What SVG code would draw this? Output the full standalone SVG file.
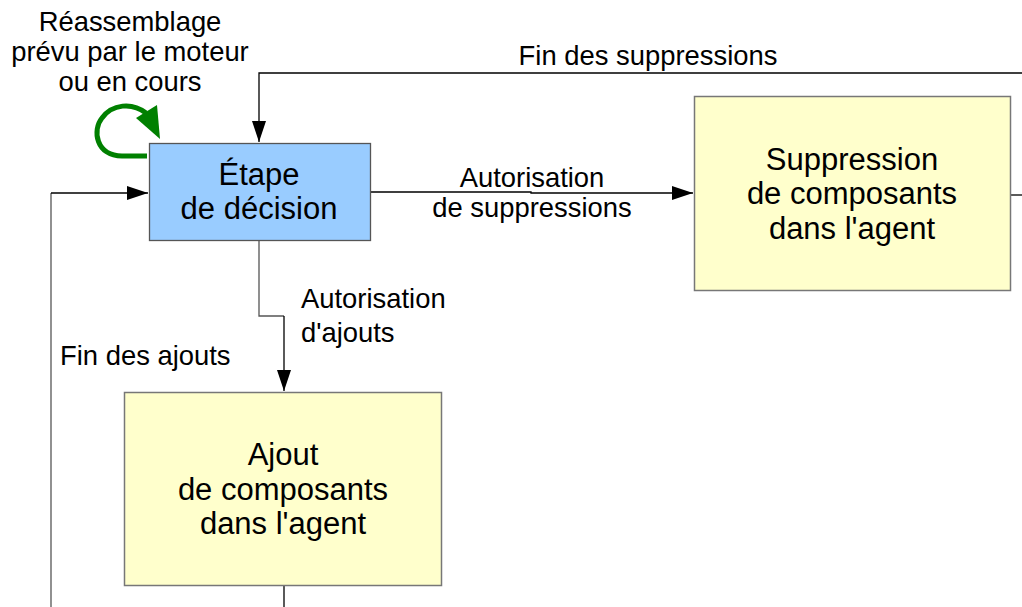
<svg xmlns="http://www.w3.org/2000/svg" width="1022" height="607" viewBox="0 0 1022 607">
<style>
text{font-family:"Liberation Sans",Arial,sans-serif;fill:#000}
.n{font-size:31px;text-anchor:middle}
.l{font-size:27.4px}
.c{text-anchor:middle}
.e{fill:none;stroke:#000;stroke-width:1.3}
.g{fill:none;stroke:#555;stroke-width:1.3}
</style>
<defs>
<marker id="a" markerWidth="21" markerHeight="14" refX="21" refY="7" orient="auto" markerUnits="userSpaceOnUse">
<path d="M0,0 L21,7 L0,14 Z" fill="#000"/>
</marker>
</defs>
<rect width="1022" height="607" fill="#fff"/>
<g id="connectors">
<path class="e" d="M1022,73 H259 V142" marker-end="url(#a)"/>
<path class="e" d="M1011,195 H1022"/>
<path class="e" d="M370,192 H531 V193 H693" marker-end="url(#a)"/>
<path class="g" d="M259,241 V316 H284"/>
<path class="e" d="M284,316 V391" marker-end="url(#a)"/>
<path class="g" d="M51,607 V193"/>
<path class="e" d="M51,193 H148" marker-end="url(#a)"/>
<path class="e" d="M284,586 V607"/>
<path d="M147,156 H122 C96,156 92,130 102,118 C112,104 132,102 146,113" fill="none" stroke="#008000" stroke-width="5"/>
<polygon points="136,118 157,105 160,139" fill="#008000"/>
</g>
<g id="n-reassemblage">
<text class="l c" x="130" y="31">Réassemblage</text>
<text class="l c" x="130" y="61">prévu par le moteur</text>
<text class="l c" x="130" y="91">ou en cours</text>
</g>
<g id="lbl-fin-supp"><text class="l c" x="648" y="65">Fin des suppressions</text></g>
<g id="lbl-auto-supp">
<text class="l c" x="532" y="187">Autorisation</text>
<text class="l c" x="532" y="217">de suppressions</text>
</g>
<g id="lbl-auto-ajout">
<text class="l" x="301" y="308">Autorisation</text>
<text class="l" x="301" y="342">d'ajouts</text>
</g>
<g id="lbl-fin-ajouts"><text class="l" x="60" y="365">Fin des ajouts</text></g>
<g id="n-decision">
<rect x="149.5" y="143.5" width="221" height="97" fill="#99ccff" stroke="#555" stroke-width="1.3"/>
<text class="n" x="259" y="185">Étape</text>
<text class="n" x="259" y="219">de décision</text>
</g>
<g id="n-suppression">
<rect x="694.5" y="96.5" width="316" height="194" fill="#ffffcc" stroke="#777" stroke-width="1.5"/>
<text class="n" x="852" y="170">Suppression</text>
<text class="n" x="852" y="204">de composants</text>
<text class="n" x="852" y="239">dans l'agent</text>
</g>
<g id="n-ajout">
<rect x="124.5" y="392.5" width="317" height="193" fill="#ffffcc" stroke="#777" stroke-width="1.5"/>
<text class="n" x="283" y="465">Ajout</text>
<text class="n" x="283" y="500">de composants</text>
<text class="n" x="283" y="534">dans l'agent</text>
</g>
</svg>
